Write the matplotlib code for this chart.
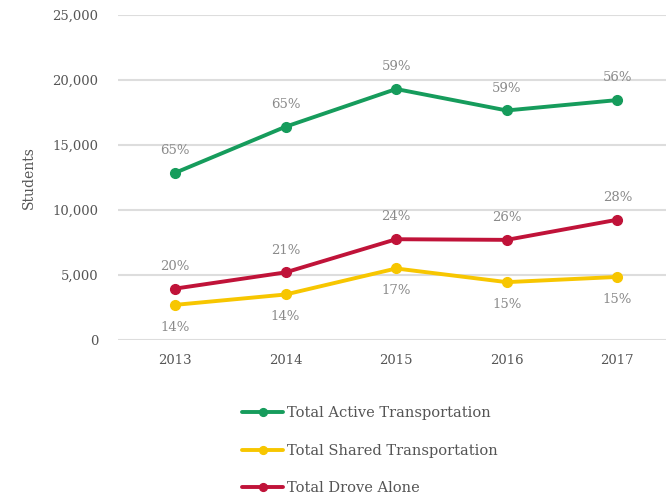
import matplotlib
matplotlib.use("Agg")
import matplotlib.pyplot as plt

years = [2013, 2014, 2015, 2016, 2017]
active = [12850, 16400, 19300, 17650, 18450]
shared = [2700, 3500, 5500, 4450, 4850]
drove = [3950, 5200, 7750, 7700, 9250]
active_pct = ["65%", "65%", "59%", "59%", "56%"]
shared_pct = ["14%", "14%", "17%", "15%", "15%"]
drove_pct = ["20%", "21%", "24%", "26%", "28%"]

GREEN = "#169c5c"
YELLOW = "#f7c600"
RED = "#c01339"
GRAY = "#8a8a8a"
TXT = "#555555"

plt.rcParams["font.family"] = ["DejaVu Serif"]

fig = plt.figure(figsize=(6.66, 4.96), dpi=100)
ax = fig.add_axes([0.177, 0.3145, 0.823, 0.6555])

series = [
    (active, active_pct, GREEN, "Total Active Transportation", 16),
    (shared, shared_pct, YELLOW, "Total Shared Transportation", -16),
    (drove, drove_pct, RED, "Total Drove Alone", 16),
]
for vals, pcts, col, name, off in series:
    ax.plot(years, vals, color=col, lw=2.8, marker="o", ms=7, label=name,
            solid_capstyle="round", zorder=3)
    for x, y, p in zip(years, vals, pcts):
        ax.annotate(p, (x, y), xytext=(0, off), textcoords="offset points",
                    ha="center", va="center", fontsize=9.5, color=GRAY)

ax.set_xlim(2012.484, 2017.44)
ax.set_ylim(0, 25000)
ax.set_yticks(range(0, 25001, 5000))
ax.set_yticklabels(["0", "5,000", "10,000", "15,000", "20,000", "25,000"])
ax.set_xticks(years)
ax.set_xticklabels([str(y) for y in years])
ax.tick_params(length=0, labelsize=9.5, labelcolor=TXT, pad=14)
ax.tick_params(axis="x", pad=10)
ax.grid(axis="y", color="#dddddd", lw=1.5)
ax.set_axisbelow(True)
for s in ax.spines.values():
    s.set_visible(False)
ax.set_ylabel("Students", fontsize=10, color=TXT, labelpad=12)

fig.legend(loc="upper left", bbox_to_anchor=(0.344, 0.207), frameon=False,
           fontsize=10.5, labelspacing=1.6, handlelength=2.8, handletextpad=0.3,
           labelcolor=TXT, markerscale=0.8)

fig.savefig("out.png", dpi=100)
